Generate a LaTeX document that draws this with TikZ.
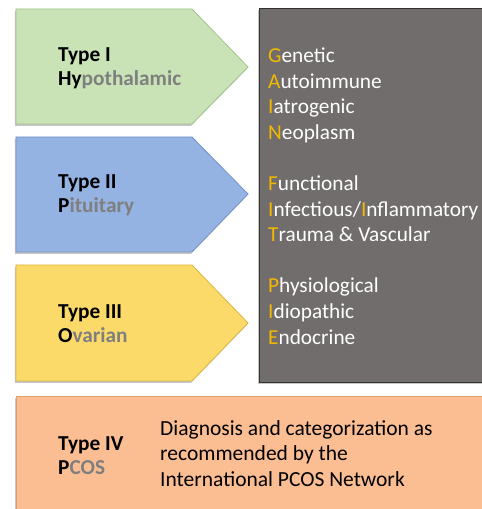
\documentclass[tikz,border=0pt]{standalone}
\usepackage{fontspec}
\setmainfont{Carlito}
\usetikzlibrary{shadows}
\definecolor{gfill}{HTML}{C9E3B6}
\definecolor{gdraw}{HTML}{A3C28C}
\definecolor{bfill}{HTML}{94B2E2}
\definecolor{bdraw}{HTML}{7393C7}
\definecolor{yfill}{HTML}{FCDA6A}
\definecolor{ydraw}{HTML}{D9B640}
\definecolor{ofill}{HTML}{FBBE93}
\definecolor{odraw}{HTML}{E09E6E}
\definecolor{boxgray}{HTML}{716D6D}
\definecolor{gold}{HTML}{F4B800}
\definecolor{lblgray}{HTML}{7F7F7F}
\tikzset{
  x=1pt, y=1pt,
  shp/.style={line width=0.8pt, drop shadow={shadow xshift=-1.2pt, shadow yshift=-2pt, opacity=0.45}},
  typelbl/.style={anchor=west, align=left, inner sep=0pt, font={\bfseries\fontsize{21.3}{24.5}\selectfont}},
  listtxt/.style={anchor=west, align=left, inner sep=0pt, text=white, font={\fontsize{21.3}{25.6}\selectfont}},
  desctxt/.style={anchor=west, align=left, inner sep=0pt, font={\fontsize{21.5}{25.5}\selectfont}}
}
\newcommand{\gl}[1]{\textcolor{gold}{#1}}
\newcommand{\gr}[1]{\textcolor{lblgray}{#1}}
\begin{document}
\begin{tikzpicture}
\useasboundingbox (0,0) rectangle (482,509);
% gray box
\path[shp, fill=boxgray, draw=black!80] (259,127) rectangle (495,501);
% arrows (y = 509 - px)
\path[shp, fill=gfill, draw=gdraw] (16,500) -- (192,500) -- (248,442) -- (192,385) -- (16,385) -- cycle;
\path[shp, fill=bfill, draw=bdraw] (16,372) -- (192,372) -- (248,315) -- (192,257) -- (16,257) -- cycle;
\path[shp, fill=yfill, draw=ydraw] (16,244) -- (192,244) -- (248,186) -- (192,128) -- (16,128) -- cycle;
% orange box
\path[shp, fill=ofill, draw=odraw] (16,113) rectangle (495,-10);
% labels
\node[typelbl] (t1) at (58,440.5) {Type I\\Hy\gr{pothalamic}};
\node[typelbl] (t2) at (58,313.5) {Type II\\P\gr{ituitary}};
\node[typelbl] (t3) at (58,185.5) {Type III\\O\gr{varian}};
\node[typelbl] (t4) at (58,53.5) {Type IV\\P\gr{COS}};
\node[listtxt] (list) at (268,313) {\gl{G}enetic\\\gl{A}utoimmune\\\gl{I}atrogenic\\\gl{N}eoplasm\\[25.6pt]\gl{F}unctional\\\gl{I}nfectious/\gl{I}nflammatory\\\gl{T}rauma \& Vascular\\[25.6pt]\gl{P}hysiological\\\gl{I}diopathic\\\gl{E}ndocrine};
\node[desctxt] (desc) at (160,55.5) {Diagnosis and categorization as\\recommended by the\\International PCOS Network};
\end{tikzpicture}
\end{document}
